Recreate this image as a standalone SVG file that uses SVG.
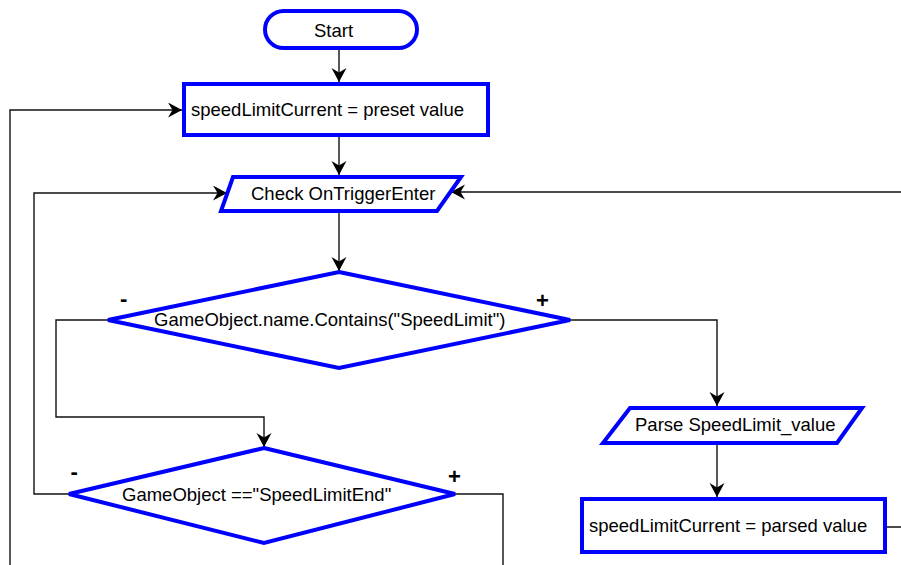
<svg xmlns="http://www.w3.org/2000/svg" width="901" height="565" viewBox="0 0 901 565">
<style>
.shape{fill:#fff;stroke:#0000ff;stroke-width:4}
.conn{fill:none;stroke:#111;stroke-width:1.4}
text{font-family:"Liberation Sans",Arial,sans-serif;font-size:18.5px;fill:#000}
.sign{font-size:22px;font-weight:bold}
</style>
<defs>
<marker id="arr" markerUnits="userSpaceOnUse" markerWidth="16" markerHeight="16" refX="14" refY="7.5" orient="auto">
<path d="M0,0 L14,7.5 L0,15 L4.5,7.5 z" fill="#000"/>
</marker>
</defs>
<rect width="901" height="565" fill="#fff"/>
<g id="connectors">
<path class="conn" d="M339,48 V82" marker-end="url(#arr)"/>
<path class="conn" d="M10,570 V110 H182" marker-end="url(#arr)"/>
<path class="conn" d="M339,135 V175" marker-end="url(#arr)"/>
<path class="conn" d="M339,211 V271" marker-end="url(#arr)"/>
<path class="conn" d="M108,320 H56 V417 H264 V447" marker-end="url(#arr)"/>
<path class="conn" d="M570,320 H717 V406" marker-end="url(#arr)"/>
<path class="conn" d="M717,445 V497" marker-end="url(#arr)"/>
<path class="conn" d="M885,527 H906 V192 H451" marker-end="url(#arr)"/>
<path class="conn" d="M69,494 H34 V193 H227" marker-end="url(#arr)"/>
<path class="conn" d="M455,494 H503 V570"/>
</g>
<g id="start">
<rect class="shape" x="265" y="11" width="152" height="37" rx="18.5"/>
<text x="314" y="37">Start</text>
</g>
<g id="init">
<rect class="shape" x="184" y="84" width="304" height="51"/>
<text x="191" y="116">speedLimitCurrent = preset value</text>
</g>
<g id="check">
<polygon class="shape" points="233,177 461,177 437,211 221,211"/>
<text x="251" y="200">Check OnTriggerEnter</text>
</g>
<g id="decision1">
<polygon class="shape" points="339,272 570,320 339,368 108,320"/>
<text x="154" y="326">GameObject.name.Contains("SpeedLimit")</text>
<text class="sign" x="120" y="306">-</text>
<text class="sign" x="536" y="308">+</text>
</g>
<g id="decision2">
<polygon class="shape" points="264,448 455,494 264,543 69,494"/>
<text x="122" y="501">GameObject =="SpeedLimitEnd"</text>
<text class="sign" x="70.5" y="479">-</text>
<text class="sign" x="448" y="484">+</text>
</g>
<g id="parse">
<polygon class="shape" points="630,408 862,408 837,443 603,443"/>
<text x="635" y="431">Parse SpeedLimit_value</text>
</g>
<g id="assign">
<rect class="shape" x="582" y="499" width="303" height="53"/>
<text x="589" y="532">speedLimitCurrent = parsed value</text>
</g>
</svg>
